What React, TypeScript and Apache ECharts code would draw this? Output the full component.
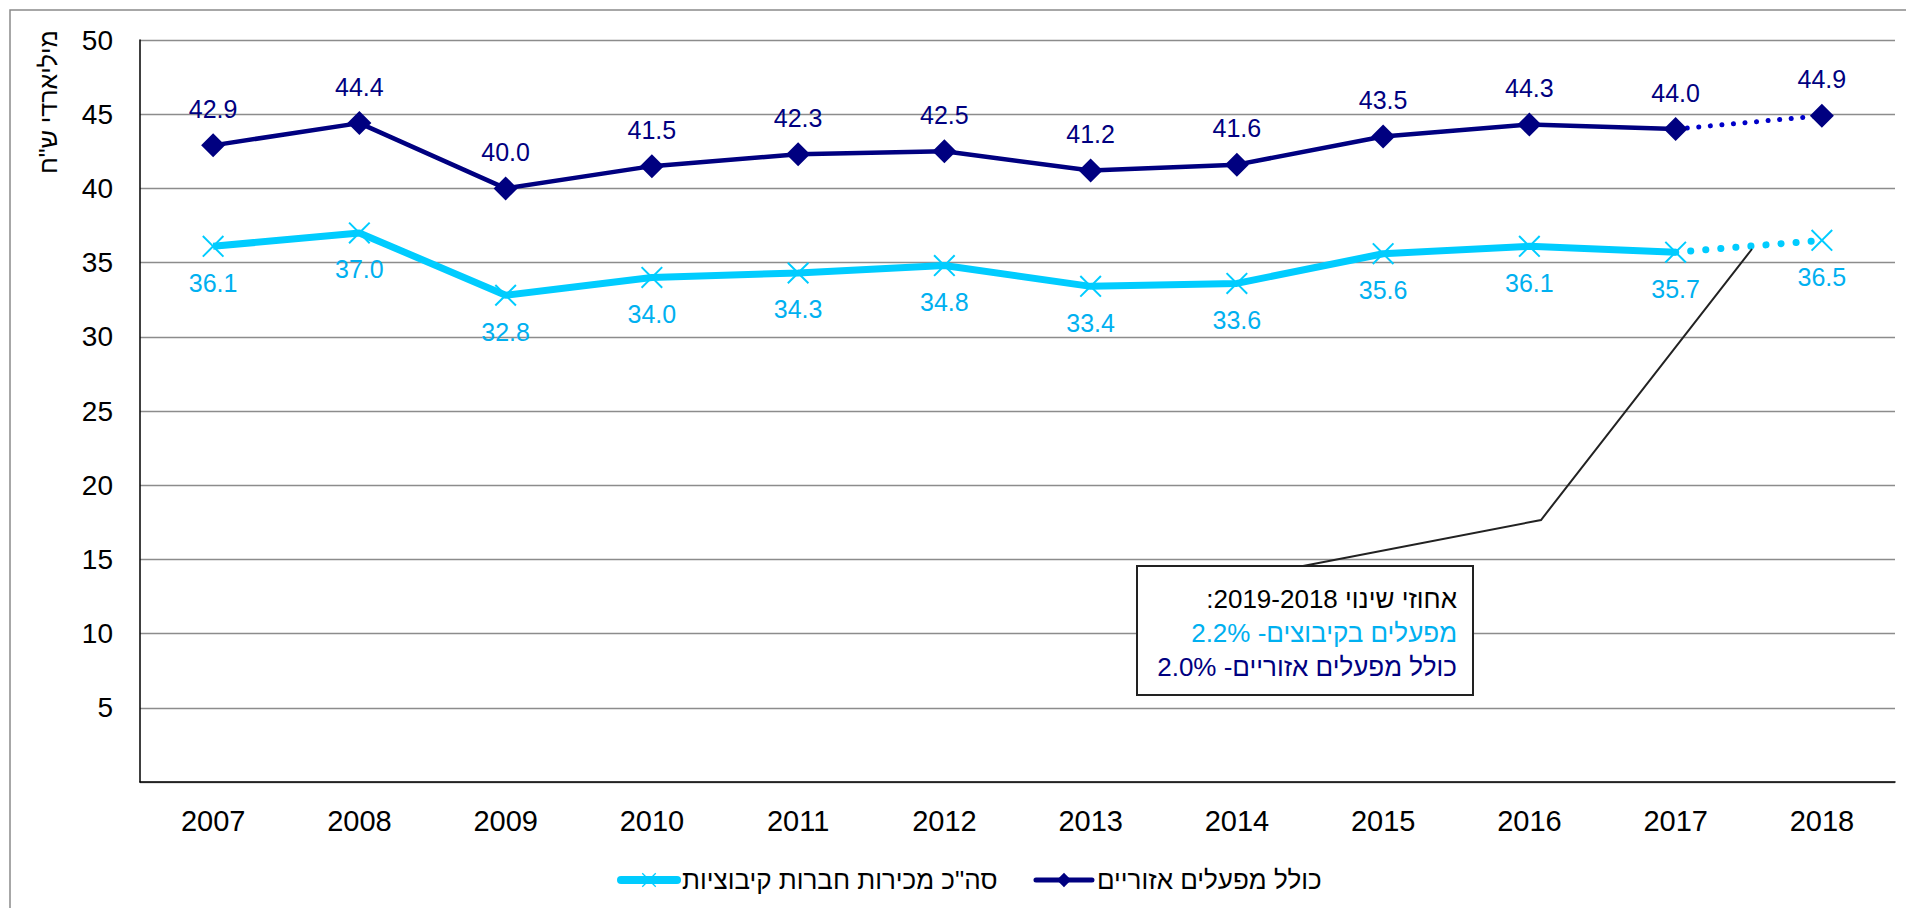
import React, { useEffect, useRef } from "react";
import * as echarts from "echarts";

const years = ["2007", "2008", "2009", "2010", "2011", "2012", "2013", "2014", "2015", "2016", "2017", "2018"];
const regionalValues = [42.9, 44.4, 40.0, 41.5, 42.3, 42.5, 41.2, 41.6, 43.5, 44.3, 44.0, 44.9];
const kibbutzValues = [36.1, 37.0, 32.8, 34.0, 34.3, 34.8, 33.4, 33.6, 35.6, 36.1, 35.7, 36.5];
const kibbutzName = "סה\"כ מכירות חברות קיבוציות";
const regionalName = "כולל מפעלים אזוריים";
const yAxisTitle = "מיליארדי ש\"ח";
const noteLines = ["אחוזי שינוי 2019-2018:\u200F", "מפעלים בקיבוצים- 2.2%", "כולל מפעלים אזוריים- 2.0%"];
const solidLastIndex = 10; // 2017: last point of the solid segment

const FONT = "'Liberation Sans', Arial, sans-serif";
const NAVY = "#000080";
const NAVY_DOT = "#0000C8";
const CYAN = "#00CCFF";
const CYAN_TEXT = "#00B0F0";
const X_SYMBOL =
  "path://M0,1.4L1.4,0L11,9.6L20.6,0L22,1.4L12.4,11L22,20.6L20.6,22L11,12.4L1.4,22L0,20.6L9.6,11Z";

function solidData(vals: number[]) {
  return vals.map((v, i) => (i <= solidLastIndex ? v : "-"));
}
function dottedData(vals: number[]) {
  return vals.map((v, i) => {
    if (i < solidLastIndex) return "-";
    if (i === solidLastIndex) return { value: v, symbol: "none", label: { show: false } };
    return v;
  });
}

export default function App() {
  const ref = useRef<HTMLDivElement>(null);
  useEffect(() => {
    if (!ref.current) return;
    const chart = echarts.init(ref.current, undefined, { renderer: "svg" });
    const navyLabel = {
      show: true,
      position: "top",
      distance: 12,
      color: NAVY,
      fontSize: 25,
      fontFamily: FONT,
      formatter: (p: any) => Number(p.value).toFixed(1),
    };
    const cyanLabel = {
      show: true,
      position: "bottom",
      distance: 13,
      color: CYAN_TEXT,
      fontSize: 25,
      fontFamily: FONT,
      formatter: (p: any) => Number(p.value).toFixed(1),
    };
    chart.setOption({
      animation: false,
      textStyle: { fontFamily: FONT },
      grid: { left: 140, right: 11, top: 40, bottom: 126, containLabel: false },
      legend: {
        data: [
          { name: kibbutzName, lineStyle: { width: 8, cap: "round", color: CYAN } },
          { name: regionalName, lineStyle: { width: 5, cap: "round", color: NAVY } },
        ],
        left: 612,
        top: 862,
        itemWidth: 56,
        itemHeight: 18,
        itemGap: 36,
        textStyle: { fontSize: 26, color: "#000", fontFamily: FONT },
      },
      xAxis: {
        type: "category",
        data: years,
        boundaryGap: true,
        axisLine: { lineStyle: { color: "#000", width: 1.5 } },
        axisTick: { show: false },
        axisLabel: { color: "#000", fontSize: 29, margin: 24, fontFamily: FONT },
      },
      yAxis: {
        type: "value",
        min: 0,
        max: 50,
        interval: 5,
        axisLine: { show: true, lineStyle: { color: "#000", width: 1.5 } },
        axisTick: { show: false },
        axisLabel: {
          color: "#000",
          fontSize: 28,
          margin: 27,
          fontFamily: FONT,
          formatter: (v: number) => (v === 0 ? "" : String(v)),
        },
        splitLine: { lineStyle: { color: "#8c8c8c", width: 1.3 } },
      },
      series: [
        {
          name: kibbutzName,
          type: "line",
          data: solidData(kibbutzValues),
          symbol: X_SYMBOL,
          symbolSize: 22,
          symbolKeepAspect: true,
          itemStyle: { color: CYAN },
          lineStyle: { color: CYAN, width: 7 },
          label: cyanLabel,
          z: 2,
        },
        {
          name: kibbutzName,
          type: "line",
          data: dottedData(kibbutzValues),
          symbol: X_SYMBOL,
          symbolSize: 22,
          symbolKeepAspect: true,
          itemStyle: { color: CYAN },
          lineStyle: { color: CYAN, width: 7, type: [0.1, 15], cap: "round" },
          label: cyanLabel,
          z: 2,
        },
        {
          name: regionalName,
          type: "line",
          data: solidData(regionalValues),
          symbol: "diamond",
          symbolSize: 24,
          itemStyle: { color: NAVY },
          lineStyle: { color: NAVY, width: 4.5 },
          label: navyLabel,
          z: 3,
        },
        {
          name: regionalName,
          type: "line",
          data: dottedData(regionalValues),
          symbol: "diamond",
          symbolSize: 24,
          itemStyle: { color: NAVY },
          lineStyle: { color: NAVY_DOT, width: 5, type: [0.1, 11.5], cap: "round" },
          label: navyLabel,
          z: 3,
        },
      ],
      graphic: [
        {
          type: "rect",
          shape: { x: 10, y: 10, width: 1920, height: 920 },
          style: { fill: "none", stroke: "#8a8a8a", lineWidth: 1.5 },
          silent: true,
          z: -10,
        },
        {
          type: "text",
          x: 48,
          y: 102,
          rotation: Math.PI / 2,
          style: {
            text: yAxisTitle,
            fill: "#000",
            fontSize: 25,
            fontFamily: FONT,
            align: "center",
            verticalAlign: "middle",
          },
        },
        {
          type: "polyline",
          shape: { points: [[1303, 566], [1541, 520], [1752, 249]] },
          style: { stroke: "#222", lineWidth: 2, fill: "none" },
          z: 20,
        },
        {
          type: "rect",
          shape: { x: 1137, y: 566, width: 336, height: 129 },
          style: { fill: "#fff", stroke: "#222", lineWidth: 2 },
          z: 21,
        },
        {
          type: "text",
          x: 1457,
          y: 599,
          z: 22,
          style: { text: noteLines[0], fill: "#000", fontSize: 26, fontFamily: FONT, align: "right", verticalAlign: "middle" },
        },
        {
          type: "text",
          x: 1457,
          y: 633,
          z: 22,
          style: { text: noteLines[1], fill: CYAN_TEXT, fontSize: 26, fontFamily: FONT, align: "right", verticalAlign: "middle" },
        },
        {
          type: "text",
          x: 1457,
          y: 667,
          z: 22,
          style: { text: noteLines[2], fill: NAVY, fontSize: 26, fontFamily: FONT, align: "right", verticalAlign: "middle" },
        },
      ],
    });
    return () => chart.dispose();
  }, []);
  return (
    <div
      ref={ref}
      style={{ position: "absolute", left: 0, top: 0, width: 1906, height: 908, background: "#fff" }}
    />
  );
}
